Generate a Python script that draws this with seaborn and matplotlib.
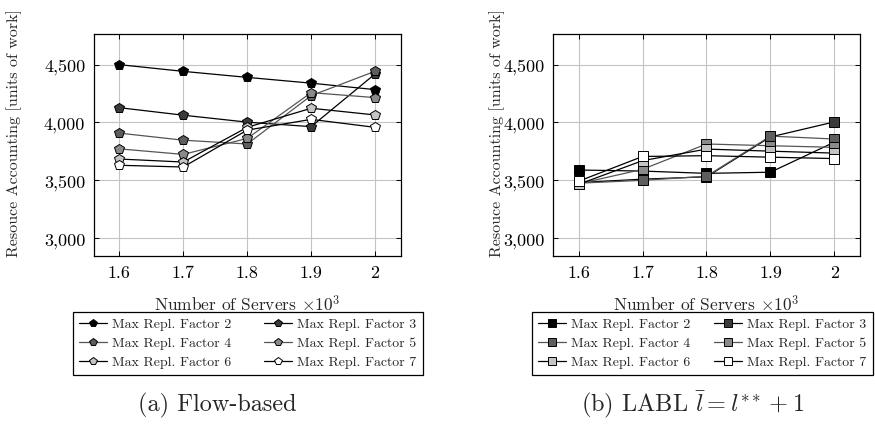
import matplotlib
matplotlib.use("Agg")
import matplotlib.pyplot as plt
import seaborn as sns
import pandas as pd

servers = [1.6, 1.7, 1.8, 1.9, 2.0]
x_ticklabels = ["1.6", "1.7", "1.8", "1.9", "2"]
y_ticks = [3000, 3500, 4000, 4500]
y_ticklabels = ["3,000", "3,500", "4,000", "4,500"]
series_names = ["Max Repl. Factor 2", "Max Repl. Factor 3", "Max Repl. Factor 4",
                "Max Repl. Factor 5", "Max Repl. Factor 6", "Max Repl. Factor 7"]

flow_f2 = [4500, 4442, 4390, 4340, 4284]
flow_f3 = [4128, 4063, 4003, 3964, 4420]
flow_f4 = [3908, 3847, 3814, 4232, 4443]
flow_f5 = [3772, 3724, 3862, 4258, 4215]
flow_f6 = [3684, 3658, 3958, 4123, 4065]
flow_f7 = [3630, 3615, 3934, 4027, 3958]

labl_f2 = [3589, 3580, 3560, 3570, 3830]
labl_f3 = [3480, 3510, 3530, 3875, 4005]
labl_f4 = [3475, 3500, 3535, 3882, 3857]
labl_f5 = [3470, 3595, 3814, 3799, 3785]
labl_f6 = [3465, 3670, 3770, 3752, 3735]
labl_f7 = [3492, 3706, 3713, 3700, 3688]

face_colors = ["#000000", "#3a3a3a", "#5e5e5e", "#8a8a8a", "#c4c4c4", "#ffffff"]
line_colors = ["#000000", "#000000", "#555555", "#555555", "#000000", "#000000"]

sns.set_theme(style="white")
plt.rcParams["font.family"] = ["cmr10", "DejaVu Serif"]
plt.rcParams["mathtext.fontset"] = "cm"
plt.rcParams["axes.unicode_minus"] = False

fig = plt.figure(figsize=(8.75, 4.27), dpi=100)
W, H = 875.0, 427.0
ax_left = fig.add_axes([93.7 / W, (H - 257.3) / H, 307 / W, 222.3 / H])
ax_right = fig.add_axes([553 / W, (H - 257.3) / H, 307 / W, 222.3 / H])

panels = [
    (ax_left, [flow_f2, flow_f3, flow_f4, flow_f5, flow_f6, flow_f7], "p", 7.5,
     "(a) Flow-based", 72.7, 350, 217),
    (ax_right, [labl_f2, labl_f3, labl_f4, labl_f5, labl_f6, labl_f7], "s", 6.5,
     r"(b) LABL $\bar{l} = l^{**} + 1$", 531.7, 341, 693),
]

order = [0, 2, 4, 1, 3, 5]

for ax, data, marker, msize, caption, leg_x, leg_w, cap_x in panels:
    frames = []
    for name, vals in zip(series_names, data):
        frames.append(pd.DataFrame({"servers": servers, "value": vals, "series": name}))
    df = pd.concat(frames, ignore_index=True)
    handles = []
    for i, name in enumerate(series_names):
        sub = df[df["series"] == name]
        sns.lineplot(data=sub, x="servers", y="value", ax=ax, color=line_colors[i],
                     lw=0.9, marker=marker, markersize=msize,
                     markerfacecolor=face_colors[i], markeredgecolor="black",
                     markeredgewidth=0.7, label=name, legend=False, zorder=3 + i)
        handles.append(ax.lines[-1])
    ax.set_xlim(1.56, 2.04)
    ax.set_ylim(2843, 4765)
    ax.set_xticks(servers)
    ax.set_xticklabels(x_ticklabels)
    ax.set_yticks(y_ticks)
    ax.set_yticklabels(y_ticklabels)
    ax.grid(True, color="#c4c4c4", lw=0.8)
    ax.set_axisbelow(True)
    for sp in ax.spines.values():
        sp.set_color("black")
        sp.set_linewidth(0.9)
    ax.tick_params(axis="both", which="both", direction="in", length=3.5, width=0.7,
                   colors="black", labelsize=13, top=True, right=True,
                   labeltop=False, labelright=False, bottom=True, left=True, pad=6)
    ax.set_xlabel(r"Number of Servers $\times 10^3$", fontsize=12.5)
    ax.xaxis.set_label_coords(0.5, -0.165)
    ax.set_ylabel("Resouce Accounting [units of work]", fontsize=11.5)
    leg = fig.legend(handles=[handles[k] for k in order],
                     labels=[series_names[k] for k in order], ncol=2,
                     loc="upper left",
                     bbox_to_anchor=(leg_x / W, (H - 312.5) / H, leg_w / W, 0.0),
                     mode="expand", fontsize=10, frameon=True, fancybox=False,
                     edgecolor="black", framealpha=1, handlelength=2.0,
                     handletextpad=0.4, columnspacing=0.2, labelspacing=0.45,
                     borderpad=0.45, borderaxespad=0, markerscale=0.8)
    leg.get_frame().set_linewidth(0.9)
    fig.text(cap_x / W, (H - 405) / H, caption, ha="center",
             va="center", fontsize=17.5)

ax_left.yaxis.set_label_coords((22 - 93.7) / 307, 0.56)
ax_right.yaxis.set_label_coords((505 - 553) / 307, 0.56)

fig.savefig("out.png", dpi=100)
